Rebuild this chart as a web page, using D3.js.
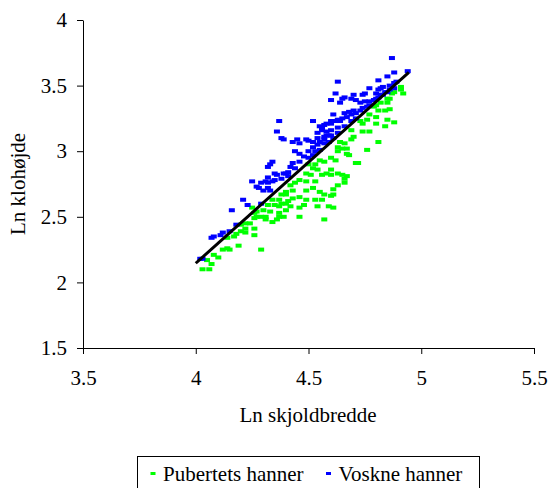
<!DOCTYPE html>
<html>
<head>
<meta charset="UTF-8">
<title>Ln klohøjde mod Ln skjoldbredde</title>
<script src="https://d3js.org/d3.v7.min.js"></script>
<style>
    body, html {
        margin: 0;
        background: #fff;
    }
    svg text {
        font-family: "Liberation Serif", "Times New Roman", serif;
        fill: #000;
    }
</style>
</head>
<body>
<div id="chart"></div>
<script>
    // tick values
    const xTicks = [3.5, 4, 4.5, 5, 5.5];
    const yTicks = [1.5, 2, 2.5, 3, 3.5, 4];

    // Pubertets hanner (green)
    const pubX = [4.91, 4.91, 4.92, 4.87, 4.88, 4.85, 4.86, 4.82, 4.85, 4.81, 4.84, 4.86, 4.79, 4.80, 4.77, 4.80,
        4.85, 4.88, 4.73, 4.76, 4.74, 4.80, 4.84, 4.69, 4.74, 4.77, 4.70, 4.69, 4.81, 4.64, 4.66, 4.63,
        4.65, 4.67, 4.76, 4.68, 4.60, 4.72, 4.71, 4.65, 4.66, 4.60, 4.61, 4.61, 4.61, 4.63, 4.67, 4.62,
        4.55, 4.57, 4.53, 4.50, 4.52, 4.54, 4.60, 4.58, 4.56, 4.63, 4.67, 4.49, 4.51, 4.46, 4.49, 4.53,
        4.63, 4.66, 4.42, 4.44, 4.40, 4.43, 4.49, 4.52, 4.55, 4.57, 4.60, 4.43, 4.46, 4.49, 4.38, 4.37,
        4.56, 4.59, 4.32, 4.35, 4.37, 4.40, 4.42, 4.46, 4.48, 4.30, 4.33, 4.37, 4.39, 4.46, 4.29, 4.31,
        4.57, 4.54, 4.53, 4.03, 4.06, 4.05, 4.07, 4.08, 4.10, 4.12, 4.14, 4.15, 4.19, 4.29, 4.14, 4.17,
        4.18, 4.20, 4.22, 4.26, 4.20, 4.22, 4.24, 4.26, 4.27, 4.26, 4.31, 4.34, 4.36, 4.26, 4.22, 4.25,
        4.27, 4.34, 4.38, 4.40, 4.41, 4.40, 4.37];
    const pubY = [3.49, 3.47, 3.44, 3.44, 3.45, 3.40, 3.40, 3.37, 3.37, 3.31, 3.31, 3.32, 3.34, 3.35, 3.28, 3.26,
        3.24, 3.22, 3.23, 3.24, 3.21, 3.21, 3.19, 3.16, 3.15, 3.15, 3.11, 3.09, 3.07, 3.07, 3.06, 3.03,
        3.02, 3.02, 3.01, 2.97, 2.95, 2.91, 2.91, 2.82, 2.79, 2.82, 2.71, 2.67, 2.57, 3.00, 2.98, 2.93,
        2.93, 2.92, 2.90, 2.90, 2.87, 2.86, 2.86, 2.83, 2.82, 2.83, 2.81, 2.83, 2.82, 2.78, 2.77, 2.77,
        2.74, 2.76, 2.74, 2.76, 2.69, 2.70, 2.70, 2.72, 2.69, 2.67, 2.66, 2.64, 2.65, 2.63, 2.67, 2.63,
        2.63, 2.58, 2.59, 2.59, 2.58, 2.60, 2.58, 2.57, 2.59, 2.55, 2.54, 2.53, 2.50, 2.50, 2.50, 2.50,
        2.48, 2.58, 2.63, 2.10, 2.10, 2.17, 2.14, 2.21, 2.19, 2.25, 2.26, 2.25, 2.28, 2.25, 2.34, 2.35,
        2.37, 2.39, 2.38, 2.36, 2.44, 2.45, 2.45, 2.49, 2.50, 2.53, 2.48, 2.46, 2.48, 2.41, 2.41, 2.57,
        2.54, 2.63, 2.60, 2.67, 2.62, 2.55, 2.50];

    // Voskne hanner (blue)
    const voksX = [4.87, 4.94, 4.88, 4.85, 4.81, 4.63, 4.77, 4.81, 4.83, 4.86, 4.88, 4.89, 4.82, 4.62, 4.70, 4.74,
        4.75, 4.80, 4.60, 4.65, 4.64, 4.66, 4.69, 4.71, 4.73, 4.75, 4.77, 4.79, 4.80, 4.81, 4.82, 4.83,
        4.84, 4.85, 4.86, 4.88, 4.61, 4.66, 4.68, 4.70, 4.71, 4.73, 4.74, 4.76, 4.77, 4.57, 4.60, 4.62,
        4.63, 4.65, 4.67, 4.69, 4.69, 4.71, 4.56, 4.58, 4.57, 4.59, 4.60, 4.55, 4.57, 4.37, 4.52, 4.56,
        4.64, 4.63, 4.66, 4.38, 4.43, 4.46, 4.49, 4.52, 4.54, 4.58, 4.60, 4.63, 4.52, 4.54, 4.57, 4.59,
        4.61, 4.50, 4.53, 4.55, 4.44, 4.46, 4.48, 4.50, 4.52, 4.34, 4.33, 4.43, 4.46, 4.42, 4.44, 4.41,
        4.39, 4.36, 4.38, 4.35, 4.31, 4.29, 4.25, 4.28, 4.30, 4.32, 4.33, 4.36, 4.39, 4.45, 4.50, 4.32,
        4.40, 4.41, 4.54, 4.55, 4.58, 4.60, 4.27, 4.32, 4.34, 4.32, 4.35, 4.21, 4.23, 4.16, 4.29, 4.18,
        4.12, 4.15, 4.11, 4.08, 4.07, 4.02, 4.03];
    const voksY = [3.71, 3.61, 3.60, 3.57, 3.54, 3.53, 3.48, 3.47, 3.49, 3.50, 3.52, 3.53, 3.48, 3.44, 3.43, 3.43,
        3.44, 3.44, 3.39, 3.40, 3.37, 3.41, 3.40, 3.39, 3.37, 3.38, 3.38, 3.39, 3.40, 3.41, 3.43, 3.43,
        3.45, 3.45, 3.47, 3.48, 3.28, 3.29, 3.30, 3.31, 3.29, 3.31, 3.33, 3.34, 3.35, 3.20, 3.21, 3.23,
        3.24, 3.25, 3.26, 3.23, 3.28, 3.25, 3.16, 3.15, 3.11, 3.12, 3.16, 3.07, 3.09, 3.23, 3.23, 3.18,
        3.23, 3.18, 3.19, 3.10, 3.07, 3.06, 3.09, 3.07, 3.10, 3.12, 3.12, 3.14, 3.03, 3.05, 3.06, 3.07,
        3.10, 3.00, 3.00, 3.01, 3.00, 2.98, 2.96, 2.95, 2.97, 2.92, 2.90, 2.91, 2.92, 2.88, 2.87, 2.84,
        2.83, 2.82, 2.79, 2.78, 2.77, 2.76, 2.77, 2.72, 2.70, 2.72, 2.70, 3.15, 3.09, 3.09, 3.08, 2.88,
        2.83, 2.81, 3.14, 3.19, 3.21, 3.23, 2.73, 2.76, 2.77, 2.80, 2.83, 2.63, 2.59, 2.55, 2.60, 2.44,
        2.38, 2.39, 2.36, 2.35, 2.34, 2.18, 2.18];

    // regression line end points
    const lineX = [4.0, 4.945];
    const lineY = [2.146, 3.60];

    const seriesNames = ["Pubertets hanner", "Voskne hanner"];
    const seriesColors = ["#00ff00", "#0000ff"];

    const width = 548, height = 488;
    const margin = {top: 20, left: 83, right: 14, bottom: 140};
    const serif = '"Liberation Serif", "Times New Roman", serif';

    const svg = d3.select("#chart").append("svg")
        .attr("width", width)
        .attr("height", height)
        .attr("font-family", serif);

    const x = d3.scaleLinear().domain([3.5, 5.5]).range([margin.left, width - margin.right]);
    const y = d3.scaleLinear().domain([1.5, 4]).range([height - margin.bottom, margin.top]);

    // axes
    svg.append("g")
        .attr("transform", "translate(" + x(3.5) + ",0)")
        .call(d3.axisLeft(y).tickValues(yTicks).tickSizeInner(6).tickSizeOuter(0).tickPadding(10)
            .tickFormat(d3.format("")));
    svg.append("g")
        .attr("transform", "translate(0," + y(1.5) + ")")
        .call(d3.axisBottom(x).tickValues(xTicks).tickSizeInner(6).tickSizeOuter(0).tickPadding(16)
            .tickFormat(d3.format("")));

    svg.selectAll("g").attr("font-family", serif);
    svg.selectAll(".domain, .tick line").attr("stroke", "#000").attr("stroke-width", 1);
    svg.selectAll(".tick text")
        .style("font-size", "21px")
        .attr("fill", "#000");

    // points
    const pubData = pubX.map((v, i) => ({x: v, y: pubY[i]}));
    const voksData = voksX.map((v, i) => ({x: v, y: voksY[i]}));

    [pubData, voksData].forEach((data, k) => {
        svg.append("g").selectAll("rect")
            .data(data)
            .enter().append("rect")
            .attr("x", d => x(d.x) - 3)
            .attr("y", d => y(d.y) - 2)
            .attr("width", 6)
            .attr("height", 4)
            .attr("fill", seriesColors[k]);
    });

    // regression line
    svg.append("path")
        .datum(lineX.map((v, i) => ({x: v, y: lineY[i]})))
        .attr("d", d3.line().x(d => x(d.x)).y(d => y(d.y)))
        .attr("stroke", "#000")
        .attr("stroke-width", 3)
        .attr("fill", "none");

    // axis titles
    svg.append("text")
        .attr("x", 308)
        .attr("y", 422)
        .attr("text-anchor", "middle")
        .style("font-size", "21px")
        .text("Ln skjoldbredde");

    svg.append("text")
        .attr("transform", "translate(25,184) rotate(-90)")
        .attr("text-anchor", "middle")
        .style("font-size", "21px")
        .text("Ln klohøjde");

    // legend
    const legend = svg.append("g");
    legend.append("rect")
        .attr("x", 137.5)
        .attr("y", 456.5)
        .attr("width", 342)
        .attr("height", 40)
        .attr("fill", "#fff")
        .attr("stroke", "#000");

    const legendX = [153, 328.5];
    seriesNames.forEach((name, k) => {
        legend.append("rect")
            .attr("x", legendX[k] - 2.5)
            .attr("y", 472)
            .attr("width", 5)
            .attr("height", 3)
            .attr("fill", seriesColors[k]);
        legend.append("text")
            .attr("x", legendX[k] + 10)
            .attr("y", 481)
            .style("font-size", "21px")
            .text(name);
    });
</script>
</body>
</html>
